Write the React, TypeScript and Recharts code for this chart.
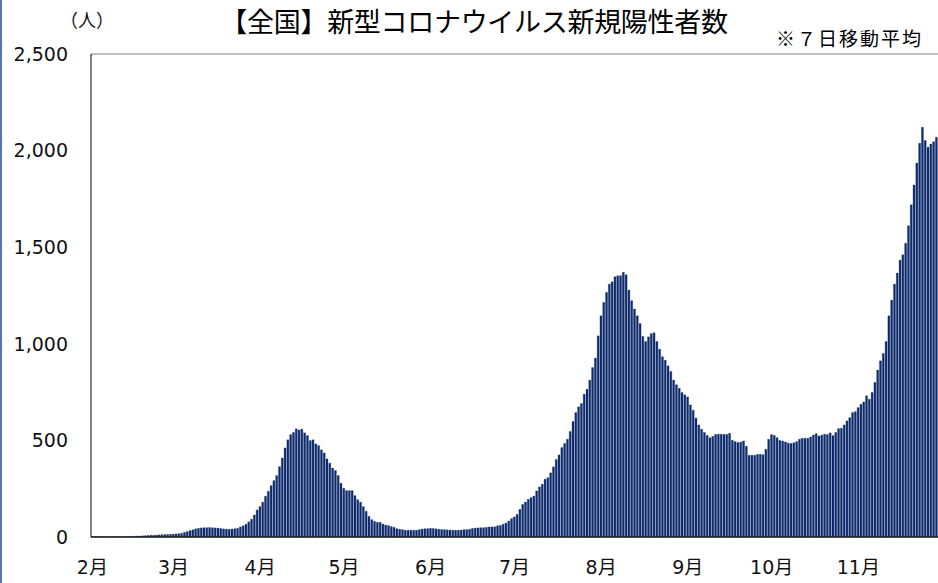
import { Bar, BarChart, ReferenceLine, XAxis, YAxis } from "recharts"

// 全国の新規陽性者数（7日移動平均, 人）— 月ごとの日次値
const feb = [1, 1, 1, 1, 1, 1, 1, 1, 1, 1, 1, 1, 2, 2, 3, 4, 5, 5, 6, 7, 8, 9, 9, 10, 11, 12, 13, 13, 14]
const mar = [15, 16, 17, 19, 24, 28, 33, 37, 42, 45, 47, 48, 48, 49, 48, 47, 46, 44, 42, 41, 40, 41, 43, 45, 52, 58, 66, 78, 92, 114, 140]
const apr = [157, 180, 211, 237, 266, 292, 318, 364, 409, 461, 503, 530, 541, 560, 554, 558, 539, 525, 499, 503, 482, 473, 451, 435, 404, 382, 357, 344, 318, 278]
const may = [252, 240, 240, 240, 214, 193, 180, 157, 133, 107, 90, 81, 76, 76, 67, 62, 59, 54, 50, 43, 40, 38, 35, 35, 35, 35, 35, 38, 41, 43, 43]
const jun = [45, 44, 42, 40, 39, 38, 37, 36, 35, 35, 35, 36, 38, 38, 40, 44, 46, 47, 48, 48, 50, 52, 52, 53, 58, 60, 66, 72, 83, 95]
const jul = [104, 117, 143, 169, 181, 195, 204, 212, 238, 259, 273, 299, 307, 332, 363, 401, 425, 463, 484, 506, 546, 598, 644, 674, 691, 739, 765, 812, 877, 926, 1041]
const aug = [1145, 1214, 1266, 1309, 1321, 1347, 1352, 1352, 1370, 1357, 1278, 1223, 1180, 1145, 1105, 1038, 1012, 1036, 1053, 1057, 1012, 972, 933, 915, 886, 857, 812, 788, 770, 748, 736]
const sep = [725, 684, 656, 615, 580, 558, 541, 526, 514, 521, 531, 532, 532, 531, 531, 537, 501, 494, 489, 491, 497, 470, 423, 423, 423, 428, 428, 426, 454, 506]
const oct = [530, 526, 514, 500, 497, 492, 486, 484, 488, 494, 506, 511, 511, 511, 518, 528, 535, 523, 527, 532, 530, 539, 525, 541, 561, 563, 580, 601, 618, 644, 649]
const nov = [670, 687, 699, 731, 713, 748, 800, 864, 912, 950, 1012, 1145, 1226, 1309, 1366, 1433, 1461, 1520, 1611, 1720, 1822, 1936, 2038, 2121, 2052, 2017, 2034, 2046, 2069]

const monthLabels = ["2月", "3月", "4月", "5月", "6月", "7月", "8月", "9月", "10月", "11月"]
const yTicks = [0, 500, 1000, 1500, 2000, 2500]

const months = [feb, mar, apr, may, jun, jul, aug, sep, oct, nov]

const rows = months.flatMap((vals, m) =>
  vals.map((v, i) => ({ date: `${m + 2}/${i + 1}`, cases: v }))
)
const monthTicks = months.map((_, m) => `${m + 2}/1`)
const tickName: Record<string, string> = Object.fromEntries(monthTicks.map((t, i) => [t, monthLabels[i]]))

const labelFont = "'DejaVu Sans', 'Noto Sans CJK JP', sans-serif"
const jpFont = "'Noto Sans CJK JP', 'Noto Sans', sans-serif"
const barColor = "#0f2b6c"

export default function App() {
  return (
    <div
      style={{
        position: "absolute",
        left: 0,
        top: 0,
        width: 938,
        height: 583,
        overflow: "hidden",
        background: "#fff",
      }}
    >
      <div style={{ position: "absolute", left: 0, top: 0, width: 2, height: 583, background: "#5672c4" }} />
      <div
        style={{
          position: "absolute",
          left: 60,
          top: 6,
          fontFamily: jpFont,
          fontSize: 18,
          lineHeight: "26px",
          color: "#111",
        }}
      >
        （人）
      </div>
      <div
        style={{
          position: "absolute",
          left: 206,
          top: 3,
          width: 536,
          textAlign: "center",
          fontFamily: jpFont,
          fontSize: 27,
          letterSpacing: -0.3,
          lineHeight: "36px",
          color: "#000",
          whiteSpace: "nowrap",
        }}
      >
        【全国】新型コロナウイルス新規陽性者数
      </div>
      <div
        style={{
          position: "absolute",
          left: 776,
          top: 25,
          fontFamily: jpFont,
          fontSize: 19,
          letterSpacing: 2,
          lineHeight: "26px",
          color: "#000",
          whiteSpace: "nowrap",
        }}
      >
        ※７日移動平均
      </div>
      <BarChart
        width={938}
        height={583}
        data={rows}
        margin={{ top: 54, right: 0, bottom: 6, left: 0 }}
        barCategoryGap={0.2}
        style={{ position: "absolute", left: 0, top: 0 }}
      >
        <XAxis
          dataKey="date"
          ticks={monthTicks}
          interval={0}
          tickFormatter={(d: string) => tickName[d] ?? ""}
          tickLine={false}
          tickSize={0}
          tickMargin={24}
          height={40}
          axisLine={{ stroke: "#1a1a1a", strokeWidth: 1.5 }}
          tick={{ fontSize: 19, fill: "#111", fontFamily: labelFont }}
        />
        <YAxis
          domain={[0, 2500]}
          ticks={yTicks}
          width={91}
          tickLine={false}
          tickSize={0}
          tickMargin={23}
          axisLine={{ stroke: "#000", strokeWidth: 1 }}
          tickFormatter={(v: number) => v.toLocaleString("en-US")}
          tick={{ fontSize: 19, fill: "#111", fontFamily: labelFont }}
        />
        <ReferenceLine y={2500} stroke="#808080" strokeWidth={1} />
        <Bar dataKey="cases" fill={barColor} stroke={barColor} strokeWidth={0.3} isAnimationActive={false} />
      </BarChart>
    </div>
  )
}
